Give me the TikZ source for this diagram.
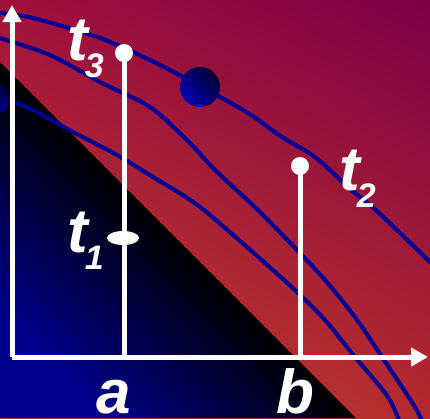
\documentclass[tikz,border=0pt]{standalone}
\usepackage{fontspec}
\setmainfont{Liberation Sans}
\usepackage{tikz}
\usetikzlibrary{shadings}
\usetikzlibrary{calc,arrows.meta}
\usetikzlibrary{shapes.geometric}
\definecolor{bg-crimson}{HTML}{A2103C}
\definecolor{bg-plum}{HTML}{7C0046}
\definecolor{bg-red}{HTML}{B42A2E}
\definecolor{bg-orange}{HTML}{C84A28}
\definecolor{sh-navy}{HTML}{00008C}
\definecolor{sh-ball}{HTML}{0000B8}
\definecolor{sh-dark}{HTML}{000030}
\definecolor{ct-blue}{HTML}{000096}
\newcommand{\tsub}[1]{\kern-3pt\lower17pt\hbox{\fontsize{34}{34}\selectfont\bfseries\itshape #1}}

\begin{document}
\begin{tikzpicture}[x=1pt, y=-1pt,
    axis/.style={white, line width=5pt},
    tip/.style={-{Triangle[length=17pt, width=18pt]}},
    dot/.style={circle, fill=white, inner sep=0pt, minimum size=18pt},
    ball/.style={circle, inner sep=0pt, minimum size=40pt, bottom color=sh-ball, top color=sh-dark, shading angle=-45},
    contour/.style={ct-blue, line width=4pt, smooth},
    lbl/.style={white, inner sep=0pt, anchor=base west, font=\fontsize{62}{62}\selectfont\bfseries\itshape}]

    \useasboundingbox (0,0) rectangle (430,418);
    \clip (0,0) rectangle (430,418);

    % Background shading
    \shade[upper left=bg-crimson, upper right=bg-plum, lower left=bg-orange, lower right=bg-red]
        (0,0) rectangle (430,418);

    % Dark region below the diagonal
    \shade[bottom color=sh-navy, top color=black, middle color=black, shading angle=-45]
        (0,62) -- (356,418) -- (0,418) -- cycle;

    % Draw the contour curves
    \draw[contour] plot coordinates {(-10,12) (0,13) (33,18) (100,38) (150,60) (200,86) (248,113)
        (282,137) (315,157) (348,187) (378,212) (428,260) (440,272)};
    \draw[contour] plot coordinates {(-10,34) (0,38) (50,55) (100,82) (150,107) (187,140) (215,170)
        (258,210) (297,250) (325,280) (355,317) (382,357) (415,407) (425,428)};
    \draw[contour] plot coordinates {(-10,93) (0,97) (33,110) (73,132) (117,155) (153,177) (200,207)
        (265,263) (297,292) (325,320) (355,357) (388,397) (402,428)};

    % Balls sitting on the contours
    \node[ball] (bigball) at (200,87) {};
    \node[ball, minimum size=32pt] (leftball) at (-5,98) {};

    % Draw axes
    \coordinate (O) at (12,357);
    \coordinate (xend) at (428,357);
    \coordinate (yend) at (12,5);
    \draw[axis, tip] (O) -- (xend);
    \draw[axis, tip] (O) -- (yend);

    % Stems at a and b
    \coordinate (a) at (124,357);
    \coordinate (b) at (300,357);
    \node[dot] (t3) at (124,53) {};
    \node[dot] (t2) at (300,166) {};
    \node[ellipse, fill=white, inner sep=0pt, minimum width=32pt, minimum height=14pt] (t1) at (123,238) {};
    \draw[axis] (a) -- (t3.center);
    \draw[axis] (b) -- (t2.center);

    % Add labels
    \node[lbl] (t3lbl) at (67,60) {t\tsub{3}};
    \node[lbl] (t2lbl) at (339,190) {t\tsub{2}};
    \node[lbl] (t1lbl) at (67,252) {t\tsub{1}};
    \node[lbl] (albl) at (96,413) {a};
    \node[lbl] (blbl) at (276,413) {b};
\end{tikzpicture}
\end{document}
